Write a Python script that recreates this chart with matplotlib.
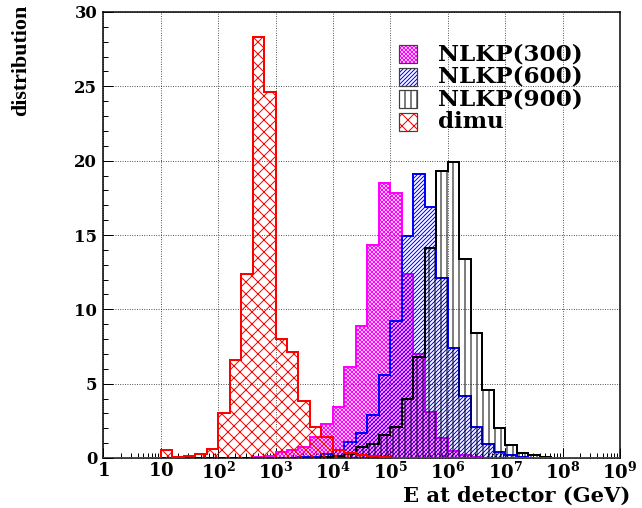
import numpy as np
import matplotlib
matplotlib.use("Agg")
import matplotlib.pyplot as plt
from matplotlib.patches import Rectangle
from matplotlib.ticker import FixedLocator, LogLocator, MultipleLocator, NullFormatter

plt.rcParams["font.family"] = "DejaVu Serif"
plt.rcParams["font.weight"] = "bold"
plt.rcParams["mathtext.fontset"] = "custom"
plt.rcParams["mathtext.rm"] = "DejaVu Serif:bold"
plt.rcParams["mathtext.it"] = "DejaVu Serif:bold"
plt.rcParams["mathtext.bf"] = "DejaVu Serif:bold"
plt.rcParams["hatch.linewidth"] = 1.0

# bins: 0.2 decade wide, from 1 GeV to 1e9 GeV (45 bins)
log_edges = np.arange(46) * 0.2
edges = 10 ** log_edges

# dimu
dimu = [0, 0, 0, 0, 0, 0.55, 0.1, 0.15, 0.25, 0.6,
        3.0, 6.6, 12.4, 28.3, 24.6, 8.0, 7.15, 3.85, 2.1, 1.43,
        0.54, 0.36, 0.2, 0.12, 0.05, 0, 0, 0, 0, 0,
        0, 0, 0, 0, 0, 0, 0, 0, 0, 0,
        0, 0, 0, 0, 0]
# NLKP(300)
nlkp300 = [0, 0, 0, 0, 0, 0, 0, 0, 0, 0,
           0, 0, 0, 0.05, 0.15, 0.4, 0.55, 0.75, 1.4, 2.3,
           3.45, 6.14, 8.9, 14.3, 18.5, 17.8, 12.4, 7.0, 3.1, 1.35,
           0.5, 0.2, 0.05, 0, 0, 0, 0, 0, 0, 0,
           0, 0, 0, 0, 0]
# NLKP(600)
nlkp600 = [0, 0, 0, 0, 0, 0, 0, 0, 0, 0,
           0, 0, 0, 0, 0, 0, 0, 0.05, 0.1, 0.25,
           0.55, 1.05, 1.7, 2.9, 5.6, 9.2, 14.9, 19.1, 16.9, 12.1,
           7.4, 4.2, 2.1, 0.94, 0.38, 0.2, 0.05, 0, 0, 0,
           0, 0, 0, 0, 0]
# NLKP(900)
nlkp900 = [0, 0, 0, 0, 0, 0, 0, 0, 0, 0,
           0, 0, 0, 0, 0, 0, 0, 0, 0, 0.05,
           0.15, 0.3, 0.72, 0.92, 1.55, 2.1, 4.0, 6.8, 14.1, 19.3,
           19.9, 13.4, 8.4, 4.6, 2.0, 0.87, 0.36, 0.2, 0.05, 0,
           0, 0, 0, 0, 0]

labels = ["NLKP(300)", "NLKP(600)", "NLKP(900)", "dimu"]
colors = ["#ff00ff", "#0000ff", "black", "#ff0000"]
hatches = ["xxxxxx", "//////", "||", "xx"]
series = [nlkp300, nlkp600, nlkp900, dimu]

xticks = [10 ** k for k in range(10)]
xticklabels = ["$1$", "$10$"] + ["$10^{%d}$" % k for k in range(2, 10)]

W, H = 642, 508
fig = plt.figure(figsize=(W / 72, H / 72), dpi=72)
ax = fig.add_axes([103.3 / W, 50 / H, (620 - 103.3) / W, (458 - 12) / H])

for z, (vals, col, h) in enumerate(zip(series, colors, hatches)):
    ax.stairs(vals, edges, fill=True, facecolor="none", edgecolor=col,
              hatch=h, linewidth=0, zorder=2 + z)
    ax.stairs(vals, edges, color=col, linewidth=2, baseline=0, zorder=2.5 + z)

ax.set_xscale("log")
ax.set_xlim(1, 1e9)
ax.set_ylim(0, 30)

ax.xaxis.set_major_locator(FixedLocator(xticks))
ax.set_xticklabels(xticklabels)
ax.xaxis.set_minor_locator(LogLocator(base=10, subs=np.arange(2, 10), numticks=100))
ax.xaxis.set_minor_formatter(NullFormatter())
ax.yaxis.set_major_locator(MultipleLocator(5))
ax.yaxis.set_minor_locator(MultipleLocator(1))

ax.tick_params(which="both", direction="in", top=False, right=False, width=1)
ax.tick_params(which="major", length=10)
ax.tick_params(which="minor", length=5)
ax.tick_params(axis="x", labelsize=18, pad=4)
ax.tick_params(axis="y", labelsize=16.5, pad=6)
ax.grid(True, which="major", color="black", linestyle=(0, (1, 2)), linewidth=0.8)
for sp in ax.spines.values():
    sp.set_linewidth(1.5)

fig.text(630 / W, 1 - 486 / H, "E at detector (GeV)", ha="right", va="top",
         fontsize=21, fontweight="bold")
fig.text(21 / W, 1 - 5 / H, "distribution", rotation=90, ha="center", va="top",
         fontsize=22, fontweight="bold", family="Liberation Serif")

# legend drawn by hand so the rows can sit as tight as the original
for k, (lab, col, h) in enumerate(zip(labels, colors, hatches)):
    yc = 54 + 22.7 * k
    x0, y0, s = 399 / W, 1 - (yc + 9) / H, 18
    fig.add_artist(Rectangle((x0, y0), s / W, s / H, transform=fig.transFigure,
                             facecolor="white", edgecolor=col, hatch=h, linewidth=0))
    fig.add_artist(Rectangle((x0, y0), s / W, s / H, transform=fig.transFigure,
                             fill=False, edgecolor="0.25", linewidth=1.2))
    fig.text(438 / W, 1 - yc / H, lab, ha="left", va="center",
             fontsize=23, fontweight="bold")

fig.savefig("out.png", dpi=72)
